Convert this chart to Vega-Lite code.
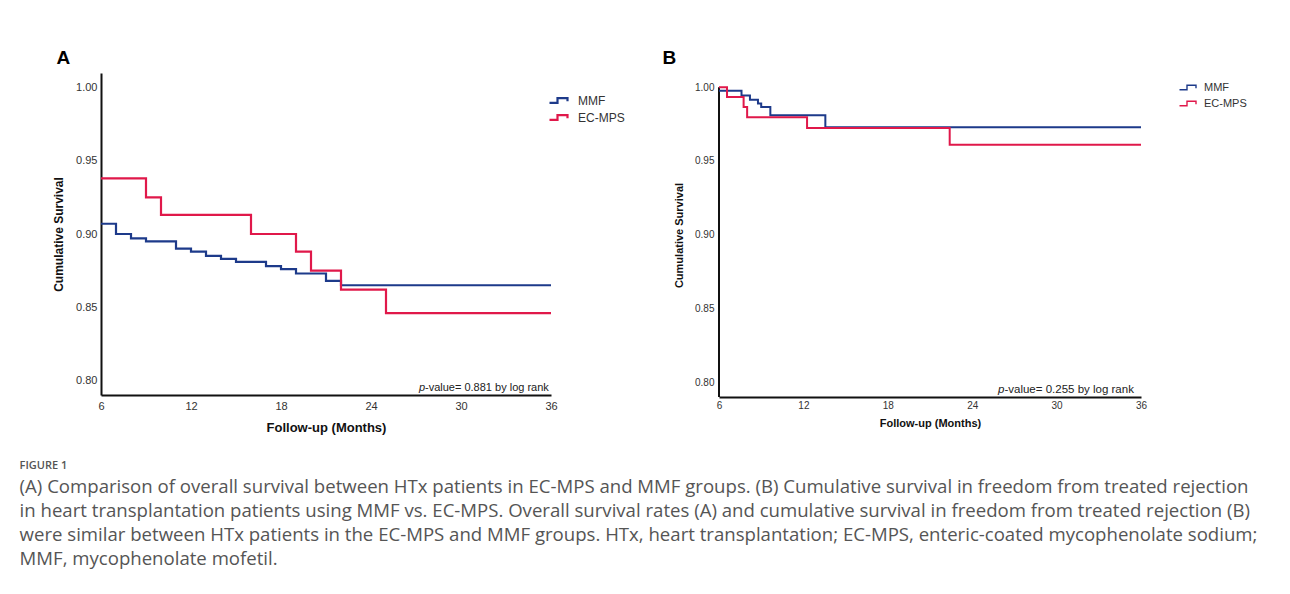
{
  "$schema": "https://vega.github.io/schema/vega-lite/v6.json",
  "padding": {"left": 19, "top": 49, "right": 0, "bottom": 12},
  "background": "white",
  "datasets": {
    "survA": [
      {"group": "MMF", "month": 6, "survival": 0.907},
      {"group": "MMF", "month": 7, "survival": 0.900},
      {"group": "MMF", "month": 8, "survival": 0.897},
      {"group": "MMF", "month": 9, "survival": 0.895},
      {"group": "MMF", "month": 11, "survival": 0.890},
      {"group": "MMF", "month": 12, "survival": 0.888},
      {"group": "MMF", "month": 13, "survival": 0.885},
      {"group": "MMF", "month": 14, "survival": 0.883},
      {"group": "MMF", "month": 15, "survival": 0.881},
      {"group": "MMF", "month": 17, "survival": 0.878},
      {"group": "MMF", "month": 18, "survival": 0.876},
      {"group": "MMF", "month": 19, "survival": 0.873},
      {"group": "MMF", "month": 21, "survival": 0.868},
      {"group": "MMF", "month": 22, "survival": 0.865},
      {"group": "MMF", "month": 36, "survival": 0.865},
      {"group": "EC-MPS", "month": 6, "survival": 0.938},
      {"group": "EC-MPS", "month": 9, "survival": 0.925},
      {"group": "EC-MPS", "month": 10, "survival": 0.913},
      {"group": "EC-MPS", "month": 16, "survival": 0.900},
      {"group": "EC-MPS", "month": 19, "survival": 0.888},
      {"group": "EC-MPS", "month": 20, "survival": 0.875},
      {"group": "EC-MPS", "month": 22, "survival": 0.862},
      {"group": "EC-MPS", "month": 25, "survival": 0.846},
      {"group": "EC-MPS", "month": 36, "survival": 0.846}
    ],
    "survB": [
      {"group": "MMF", "month": 6, "survival": 0.9975},
      {"group": "MMF", "month": 7.6, "survival": 0.9944},
      {"group": "MMF", "month": 8.2, "survival": 0.9915},
      {"group": "MMF", "month": 8.77, "survival": 0.989},
      {"group": "MMF", "month": 9.0, "survival": 0.9865},
      {"group": "MMF", "month": 9.65, "survival": 0.981},
      {"group": "MMF", "month": 13.56, "survival": 0.9729},
      {"group": "MMF", "month": 36, "survival": 0.9729},
      {"group": "EC-MPS", "month": 6, "survival": 1.0},
      {"group": "EC-MPS", "month": 6.57, "survival": 0.9933},
      {"group": "EC-MPS", "month": 7.75, "survival": 0.9865},
      {"group": "EC-MPS", "month": 8.0, "survival": 0.9796},
      {"group": "EC-MPS", "month": 12.26, "survival": 0.9724},
      {"group": "EC-MPS", "month": 22.4, "survival": 0.961},
      {"group": "EC-MPS", "month": 36, "survival": 0.961}
    ],
    "axisB": [{"month": 6, "from": 0.79, "to": 1.0}],
    "pA": [{"month": 27.2, "survival": 0.79, "p": "p", "rest": "-value=  0.881 by  log rank"}],
    "pB": [{"month": 25.83, "survival": 0.79, "p": "p", "rest": "-value=  0.255 by  log rank"}]
  },
  "title": {
    "text": "FIGURE 1",
    "subtitle": [
      "(A) Comparison of overall survival between HTx patients in EC-MPS and MMF groups. (B) Cumulative survival in freedom from treated rejection",
      "in heart transplantation patients using MMF vs. EC-MPS. Overall survival rates (A) and cumulative survival in freedom from treated rejection (B)",
      "were similar between HTx patients in the EC-MPS and MMF groups. HTx, heart transplantation; EC-MPS, enteric-coated mycophenolate sodium;",
      "MMF, mycophenolate mofetil."
    ],
    "orient": "bottom",
    "anchor": "start",
    "frame": "bounds",
    "dx": -33,
    "offset": 26,
    "font": "Open Sans",
    "fontSize": 11,
    "fontWeight": 600,
    "color": "#555555",
    "subtitleFont": "Open Sans",
    "subtitleFontSize": 18.6,
    "subtitleColor": "#555555",
    "subtitleLineHeight": 24,
    "subtitlePadding": 7
  },
  "config": {
    "view": {"stroke": null},
    "font": "Liberation Sans",
    "axis": {"grid": false, "ticks": false, "domainColor": "#111111", "domainWidth": 2, "labelColor": "#333333", "titleColor": "#111111", "titleFontWeight": "bold", "labelFont": "Liberation Sans", "titleFont": "Liberation Sans"}
  },
  "resolve": {"scale": {"color": "independent"}, "legend": {"color": "independent"}},
  "align": "none",
  "spacing": 37,
  "hconcat": [
    {
      "width": 450,
      "height": 322,
      "title": {"text": "A", "anchor": "start", "fontSize": 19, "fontWeight": "bold", "color": "#000000", "font": "Liberation Sans", "offset": 5, "dx": 4},
      "layer": [
        {
          "data": {"name": "survA"},
          "mark": {"type": "line", "interpolate": "step-after", "strokeWidth": 2.2},
          "encoding": {
            "x": {"field": "month", "type": "quantitative", "scale": {"domain": [6, 36], "nice": false, "zero": false},
                  "axis": {"values": [6, 12, 18, 24, 30, 36], "title": "Follow-up (Months)", "titleFontSize": 13, "titlePadding": 10, "labelFontSize": 11, "labelPadding": 5, "labelFlush": false}},
            "y": {"field": "survival", "type": "quantitative", "scale": {"domain": [0.79, 1.01], "nice": false, "zero": false},
                  "axis": {"values": [0.8, 0.85, 0.9, 0.95, 1.0], "format": ".2f", "title": "Cumulative Survival", "titleFontSize": 12, "titlePadding": 10, "labelFontSize": 11, "labelPadding": 4}},
            "color": {"field": "group", "type": "nominal", "sort": ["MMF", "EC-MPS"],
                      "scale": {"domain": ["MMF", "EC-MPS"], "range": ["#1d3a8a", "#e0184a"]},
                      "legend": {"title": null, "orient": "none", "legendX": 449, "legendY": 18, "symbolType": "M-1.25,0.3H-0.25V-0.3H1V0.1", "symbolSize": 256, "symbolStrokeWidth": 2.2, "symbolFillColor": "transparent", "labelFontSize": 12, "labelColor": "#333333", "labelOffset": 9, "rowPadding": 0, "labelFont": "Liberation Sans"}}
          }
        },
        {
          "data": {"name": "pA"},
          "mark": {"type": "text", "align": "left", "baseline": "alphabetic", "fontStyle": "italic", "fontSize": 11, "color": "#222222", "dy": -4},
          "encoding": {"x": {"field": "month", "type": "quantitative"}, "y": {"field": "survival", "type": "quantitative"}, "text": {"field": "p"}}
        },
        {
          "data": {"name": "pA"},
          "mark": {"type": "text", "align": "left", "baseline": "alphabetic", "fontSize": 11, "color": "#222222", "dy": -4, "dx": 6},
          "encoding": {"x": {"field": "month", "type": "quantitative"}, "y": {"field": "survival", "type": "quantitative"}, "text": {"field": "rest"}}
        }
      ]
    },
    {
      "width": 422,
      "height": 324,
      "title": {"text": "B", "anchor": "start", "fontSize": 19, "fontWeight": "bold", "color": "#000000", "font": "Liberation Sans", "offset": 5, "dx": -11},
      "layer": [
        {
          "data": {"name": "axisB"},
          "mark": {"type": "rule", "strokeWidth": 2, "color": "#111111"},
          "encoding": {
            "x": {"field": "month", "type": "quantitative"},
            "y": {"field": "from", "type": "quantitative"},
            "y2": {"field": "to"}
          }
        },
        {
          "data": {"name": "survB"},
          "mark": {"type": "line", "interpolate": "step-after", "strokeWidth": 2},
          "encoding": {
            "x": {"field": "month", "type": "quantitative", "scale": {"domain": [6, 36], "nice": false, "zero": false},
                  "axis": {"values": [6, 12, 18, 24, 30, 36], "title": "Follow-up (Months)", "titleFontSize": 11, "titlePadding": 7, "labelFontSize": 10, "labelPadding": 3, "labelFlush": false}},
            "y": {"field": "survival", "type": "quantitative", "scale": {"domain": [0.79, 1.0096], "nice": false, "zero": false},
                  "axis": {"values": [0.8, 0.85, 0.9, 0.95, 1.0], "format": ".2f", "title": "Cumulative Survival", "titleFontSize": 11, "titlePadding": 10, "labelFontSize": 10, "labelPadding": 5, "domain": false}},
            "color": {"field": "group", "type": "nominal", "sort": ["MMF", "EC-MPS"],
                      "scale": {"domain": ["MMF", "EC-MPS"], "range": ["#1d3a8a", "#e0184a"]},
                      "legend": {"title": null, "orient": "none", "legendX": 461, "legendY": 6, "symbolType": "M-1.2,0.3H-0.2V-0.3H1V0.1", "symbolSize": 225, "symbolStrokeWidth": 1.4, "symbolFillColor": "transparent", "labelFontSize": 11, "labelColor": "#333333", "labelOffset": 7, "rowPadding": 2, "labelFont": "Liberation Sans"}}
          }
        },
        {
          "data": {"name": "pB"},
          "mark": {"type": "text", "align": "left", "baseline": "alphabetic", "fontStyle": "italic", "fontSize": 11.5, "color": "#222222", "dy": -4},
          "encoding": {"x": {"field": "month", "type": "quantitative"}, "y": {"field": "survival", "type": "quantitative"}, "text": {"field": "p"}}
        },
        {
          "data": {"name": "pB"},
          "mark": {"type": "text", "align": "left", "baseline": "alphabetic", "fontSize": 11.5, "color": "#222222", "dy": -4, "dx": 6.5},
          "encoding": {"x": {"field": "month", "type": "quantitative"}, "y": {"field": "survival", "type": "quantitative"}, "text": {"field": "rest"}}
        }
      ]
    }
  ]
}
